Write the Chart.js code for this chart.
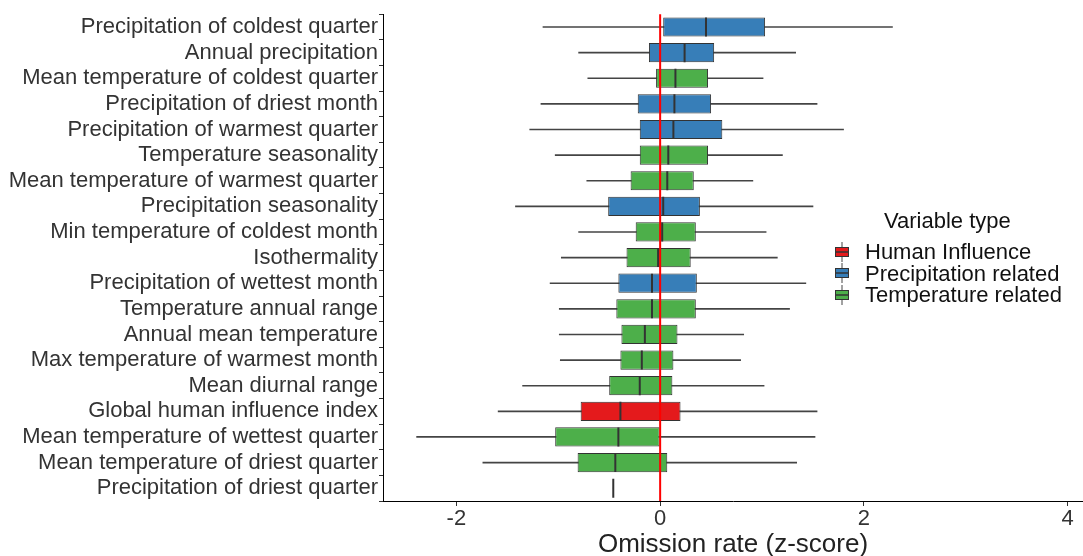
<!DOCTYPE html>
<html>
<head>
<meta charset="utf-8">
<script src="https://cdn.jsdelivr.net/npm/chart.js@4.4.1/dist/chart.umd.min.js"></script>
<style>
    body { margin: 0; background: #fff; font-family: "Liberation Sans", Arial, sans-serif; }
    #wrap { position: relative; width: 1083px; height: 556px; }
    #legend { position: absolute; left: 834px; top: 208px; color: #111; }
    #legend .title { font-size: 22px; margin-left: 50px; margin-bottom: 7px; }
    #legend .item { display: flex; align-items: center; font-size: 22px; height: 21.5px; line-height: 21.5px; }
    #legend svg { margin-right: 15px; }
</style>
</head>
<body>
<div id="wrap">
    <canvas id="chart" width="1083" height="556"></canvas>
    <div id="legend"></div>
</div>
<script>
// Variables, top to bottom
const categories = [
    'Precipitation of coldest quarter',
    'Annual precipitation',
    'Mean temperature of coldest quarter',
    'Precipitation of driest month',
    'Precipitation of warmest quarter',
    'Temperature seasonality',
    'Mean temperature of warmest quarter',
    'Precipitation seasonality',
    'Min temperature of coldest month',
    'Isothermality',
    'Precipitation of wettest month',
    'Temperature annual range',
    'Annual mean temperature',
    'Max temperature of warmest month',
    'Mean diurnal range',
    'Global human influence index',
    'Mean temperature of wettest quarter',
    'Mean temperature of driest quarter',
    'Precipitation of driest quarter'
];
const varTypes = ['P', 'P', 'T', 'P', 'P', 'T', 'T', 'P', 'T', 'T', 'P', 'T', 'T', 'T', 'T', 'H', 'T', 'T', 'P'];

// boxplot stats (z-score)
const whiskerLow  = [-1.15, -0.80, -0.71, -1.17, -1.28, -1.03, -0.72, -1.42, -0.80, -0.97, -1.08, -0.99, -0.99, -0.98, -1.35, -1.59, -2.39, -1.74, -0.46];
const boxLow      = [ 0.03, -0.11, -0.04, -0.22, -0.20, -0.20, -0.29, -0.51, -0.24, -0.33, -0.41, -0.43, -0.38, -0.39, -0.50, -0.78, -1.03, -0.81, -0.46];
const medians     = [ 0.45,  0.24,  0.15,  0.14,  0.13,  0.08,  0.07,  0.03,  0.02, -0.02, -0.08, -0.08, -0.15, -0.18, -0.20, -0.39, -0.41, -0.44, -0.46];
const boxHigh     = [ 1.03,  0.53,  0.47,  0.50,  0.61,  0.47,  0.33,  0.39,  0.35,  0.30,  0.36,  0.35,  0.17,  0.13,  0.12,  0.20,  0.00,  0.07, -0.46];
const whiskerHigh = [ 2.28,  1.33,  1.01,  1.54,  1.80,  1.20,  0.91,  1.50,  1.04,  1.15,  1.43,  1.27,  0.82,  0.79,  1.02,  1.54,  1.52,  1.34, -0.46];

const xTicks = [-2, 0, 2, 4];
const xMin = -2.72;
const xMax = 4.15;
const refLine = 0;

const typeNames = { H: 'Human Influence', P: 'Precipitation related', T: 'Temperature related' };
const typeColors = { H: '#E41A1C', P: '#377EB8', T: '#4DAF4A' };

// Red reference line at z = 0
const refLinePlugin = {
    id: 'refLine',
    afterDatasetsDraw(chart) {
        const { ctx, chartArea, scales } = chart;
        const x = scales.x.getPixelForValue(refLine);
        ctx.save();
        ctx.strokeStyle = '#ff0000';
        ctx.lineWidth = 2;
        ctx.beginPath();
        ctx.moveTo(x, chartArea.top);
        ctx.lineTo(x, chartArea.bottom);
        ctx.stroke();
        ctx.restore();
    }
};

const ctx = document.getElementById('chart').getContext('2d');
new Chart(ctx, {
    type: 'bar',
    data: {
        labels: categories,
        datasets: [{
            label: 'whiskers',
            data: categories.map((c, i) => [whiskerLow[i], whiskerHigh[i]]),
            backgroundColor: '#444',
            barThickness: 1,
            grouped: false,
            order: 3
        }, {
            label: 'boxes',
            data: categories.map((c, i) => [boxLow[i], boxHigh[i]]),
            backgroundColor: varTypes.map(t => typeColors[t]),
            borderColor: '#333',
            borderWidth: 1,
            borderSkipped: false,
            categoryPercentage: 1,
            barPercentage: 0.75,
            grouped: false,
            order: 2
        }, {
            type: 'line',
            label: 'median',
            indexAxis: 'y',
            data: categories.map((c, i) => ({ x: medians[i], y: c })),
            showLine: false,
            pointStyle: 'line',
            rotation: 90,
            pointRadius: 9.5,
            pointBorderWidth: 2,
            pointBorderColor: '#333',
            order: 1
        }]
    },
    options: {
        indexAxis: 'y',
        responsive: false,
        animation: false,
        layout: { autoPadding: false, padding: { top: 12, right: -4.5, left: 0, bottom: 0 } },
        plugins: {
            legend: { display: false },
            tooltip: { enabled: false }
        },
        scales: {
            x: {
                type: 'linear',
                min: xMin,
                max: xMax,
                afterBuildTicks: scale => { scale.ticks = xTicks.map(v => ({ value: v })); },
                afterFit: scale => { scale.height = 55; },
                grid: { drawOnChartArea: false, tickLength: 5, color: '#333' },
                border: { color: '#000', width: 1 },
                ticks: {
                    padding: 0,
                    color: '#333',
                    font: { family: 'Liberation Sans', size: 22 },
                    callback: v => String(v)
                },
                title: {
                    display: true,
                    text: 'Omission rate (z-score)',
                    color: '#222',
                    padding: { top: 0, bottom: -4 },
                    font: { family: 'Liberation Sans', size: 26 }
                }
            },
            y: {
                type: 'category',
                offset: true,
                afterFit: scale => { scale.width = 383; },
                grid: { drawOnChartArea: false, tickLength: 4, color: '#333' },
                border: { color: '#000', width: 1 },
                ticks: {
                    autoSkip: false,
                    padding: 1,
                    color: '#333',
                    font: { family: 'Liberation Sans', size: 22 }
                }
            }
        }
    },
    plugins: [refLinePlugin]
});

// Legend (drawn inside the panel like the original)
const legendEl = document.getElementById('legend');
legendEl.innerHTML = '<div class="title">Variable type</div>';
['H', 'P', 'T'].forEach(t => {
    const item = document.createElement('div');
    item.className = 'item';
    item.innerHTML = `
        <svg width="16" height="20" viewBox="0 0 16 20">
            <line x1="8" y1="0" x2="8" y2="5" stroke="#444" stroke-width="1"/>
            <line x1="8" y1="15" x2="8" y2="20" stroke="#444" stroke-width="1"/>
            <rect x="1.5" y="5.5" width="13" height="9" fill="${typeColors[t]}" stroke="#333" stroke-width="1"/>
            <line x1="1.5" y1="10" x2="14.5" y2="10" stroke="#333" stroke-width="1.5"/>
        </svg>
        <span>${typeNames[t]}</span>
    `;
    legendEl.appendChild(item);
});
</script>
</body>
</html>
